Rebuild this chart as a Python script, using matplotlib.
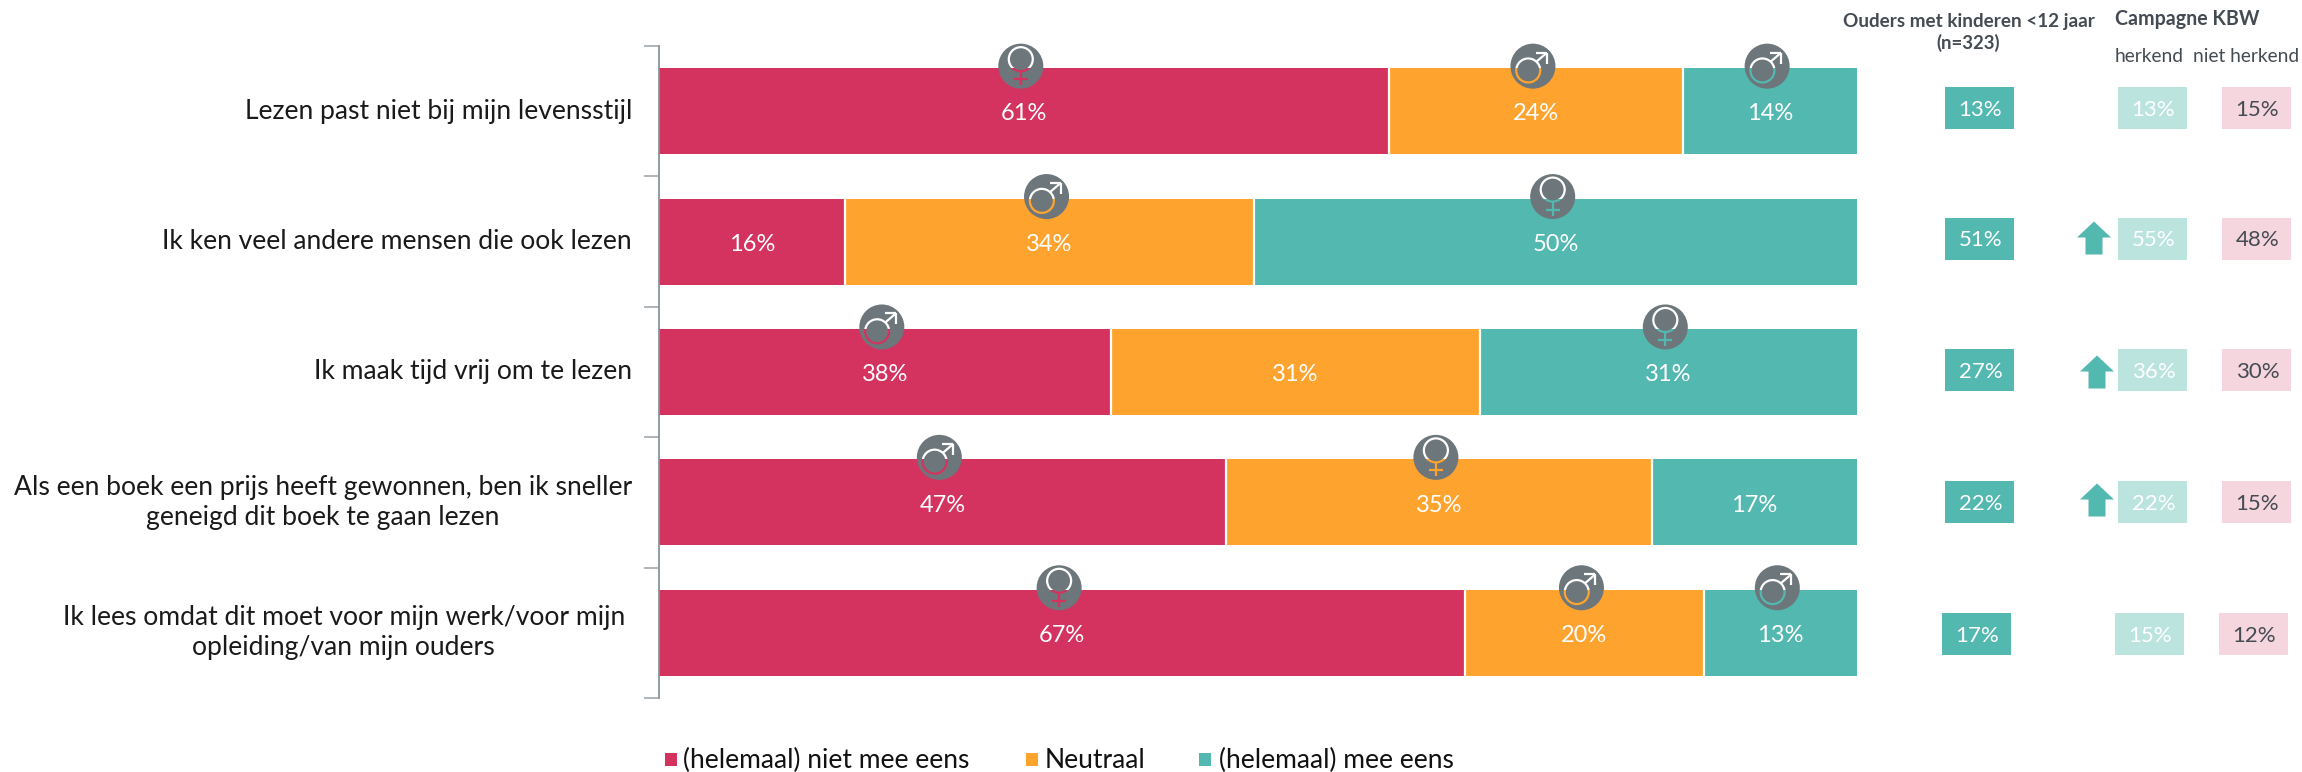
import numpy as np
import matplotlib
matplotlib.use("Agg")
import matplotlib.pyplot as plt
from matplotlib.patches import Circle, Rectangle, Polygon

plt.rcParams['font.family'] = ['Lato', 'DejaVu Sans']

W, H = 2302, 772

categories = ["Lezen past niet bij mijn levensstijl",
              "Ik ken veel andere mensen die ook lezen",
              "Ik maak tijd vrij om te lezen",
              "Als een boek een prijs heeft gewonnen, ben ik sneller\ngeneigd dit boek te gaan lezen",
              "Ik lees omdat dit moet voor mijn werk/voor mijn\nopleiding/van mijn ouders"]
series_names = ["(helemaal) niet mee eens", "Neutraal", "(helemaal) mee eens"]
# bar widths, labels as printed (they do not always round the same)
oneens = [60.9, 15.5, 37.7, 47.3, 67.3]
neutraal = [24.6, 34.2, 30.8, 35.6, 19.9]
eens = [14.5, 50.3, 31.5, 17.1, 12.8]
oneens_lab = [61, 16, 38, 47, 67]
neutraal_lab = [24, 34, 31, 35, 20]
eens_lab = [14, 50, 31, 17, 13]
# gender sign per segment, None = no sign
gender = [['f', 'm', 'm'], [None, 'm', 'f'], ['m', None, 'f'], ['m', 'f', None], ['f', 'm', 'm']]
ouders = [13, 51, 27, 22, 17]
herkend = [13, 55, 36, 22, 15]
niet_herkend = [15, 48, 30, 15, 12]
arrow_up = [False, True, True, True, False]

RED, ORANGE, TEAL = '#D4335F', '#FFA32F', '#53B8AF'
LTEAL, LPINK = '#BBE4DF', '#F5D5DE'
DARK = '#444B52'
ICON = '#6C767B'
colors = [RED, ORANGE, TEAL]

fig = plt.figure(figsize=(W / 100, H / 100), dpi=100)

# overlay in pixel coordinates for the boxes, signs and legend
ov = fig.add_axes([0, 0, 1, 1], zorder=3)
ov.set_xlim(0, W)
ov.set_ylim(H, 0)
ov.axis('off')

ax = fig.add_axes([659 / W, 1 - 698 / H, 1198 / W, 652 / H], zorder=1)
ax.set_xlim(0, 100)
ax.set_ylim(5, 0)
ypos = np.arange(5) + 0.5
bar_h = 0.66

left = np.zeros(5)
for vals, labs, col, name in zip([oneens, neutraal, eens], [oneens_lab, neutraal_lab, eens_lab], colors, series_names):
    vals = np.array(vals)
    ax.barh(ypos, vals, left=left, height=bar_h, color=col, edgecolor='none', label=name)
    for y, l, v, lab in zip(ypos, left, vals, labs):
        ax.text(l + v / 2, y + 0.02, f"{lab}%", ha='center', va='center', color='white', fontsize=17, zorder=4)
    left = left + vals
    # white gap between the segments
    if col != TEAL:
        ax.vlines(left, ypos - bar_h / 2, ypos + bar_h / 2, color='white', lw=1.6, zorder=3)

for s in ['top', 'right', 'bottom']:
    ax.spines[s].set_visible(False)
ax.spines['left'].set_color('#8A9299')
ax.spines['left'].set_linewidth(1.3)
ax.set_xticks([])
ax.set_yticks(np.arange(6))
ax.set_yticklabels([])
ax.tick_params(axis='y', length=11, width=1.3, color='#A9AFB4')
for i, (y, c) in enumerate(zip(ypos, categories)):
    ax.annotate(c, (0, y), xytext=(-27 if i < 4 else -34, 0), textcoords='offset pixels', ha='right', va='center',
                multialignment='center', fontsize=19.1, color='#1A1A1A', linespacing=1.25, annotation_clip=False)


def to_px(x, y):
    p = ax.transData.transform((x, y))
    return p[0] * 1.0, H - p[1]


def draw_sign(cx, cy, kind, lower_col, top_px):
    ov.add_patch(Circle((cx, cy), 22.5, fc=ICON, ec='none', zorder=4))
    # the sign is a cut-out: white above the bar edge, bar colour below it
    for col, clip in (('white', (cx - 30, cy - 30, 60, top_px - cy + 30)),
                      (lower_col, (cx - 30, top_px, 60, 60))):
        rect = Rectangle(clip[:2], clip[2], clip[3], transform=ov.transData)
        if kind == 'f':
            parts = [Circle((cx, cy - 7), 12, fc='none', ec=col, lw=1.6, zorder=5)]
            xs = [[cx, cx], [cx - 7, cx + 7]]
            ys = [[cy + 5, cy + 19], [cy + 13, cy + 13]]
        else:
            parts = [Circle((cx - 4.7, cy + 4.3), 12, fc='none', ec=col, lw=1.6, zorder=5)]
            xs = [[cx + 3.5, cx + 14], [cx + 3, cx + 14], [cx + 14, cx + 14]]
            ys = [[cy - 4.5, cy - 13.5], [cy - 13.5, cy - 13.5], [cy - 13.5, cy - 2.5]]
        for p in parts:
            ov.add_patch(p)
            p.set_clip_path(rect)
        for xx, yy in zip(xs, ys):
            ln, = ov.plot(xx, yy, color=col, lw=1.6, zorder=5, solid_capstyle='butt')
            ln.set_clip_path(rect)


fig.canvas.draw()
left = np.zeros(5)
for j, vals in enumerate([oneens, neutraal, eens]):
    for i in range(5):
        if gender[i][j]:
            cx, top = to_px(left[i] + vals[i] / 2, ypos[i] - bar_h / 2)
            draw_sign(cx - 3, top - 2, gender[i][j], colors[j], top)
    left = left + np.array(vals)

# side columns
box_w, box_h = 69, 42
shift = [0, 0, 0, 0, -3]
box_off = [-3.7, -3.1, -2.5, -0.9, 1.0]
arrow_x = [0, 2094, 2097, 2097, 0]
arrow_off = [0, 4, 7, 3, 0]
for i in range(5):
    _, cy = to_px(0, ypos[i])
    y0 = cy + box_off[i] - box_h / 2
    cols = [(1945, ouders[i], TEAL, 'white'), (2118, herkend[i], LTEAL, 'white'), (2222, niet_herkend[i], LPINK, DARK)]
    for x0, v, fc, tc in cols:
        x0 = x0 + shift[i]
        ov.add_patch(Rectangle((x0, y0), box_w, box_h, fc=fc, ec='none'))
        ov.text(x0 + box_w / 2 + 1, y0 + box_h / 2 + 2, f"{v}%", ha='center', va='center', color=tc, fontsize=16)
    if arrow_up[i]:
        ax_c = arrow_x[i]
        t = y0 + arrow_off[i]
        ov.add_patch(Polygon([(ax_c, t), (ax_c + 17, t + 16), (ax_c + 8.5, t + 16), (ax_c + 8.5, t + 33),
                              (ax_c - 8.5, t + 33), (ax_c - 8.5, t + 16), (ax_c - 17, t + 16)], fc=TEAL, ec='none'))

ov.text(1969, 22, "Ouders met kinderen <12 jaar", ha='center', va='center', fontsize=13.6, fontweight='bold', color=DARK)
ov.text(1968, 43, "(n=323)", ha='center', va='center', fontsize=13.3, fontweight='bold', color=DARK)
ov.text(2115, 19, "Campagne KBW", ha='left', va='center', fontsize=14.1, fontweight='bold', color=DARK)
ov.text(2115, 57, "herkend", ha='left', va='center', fontsize=13.8, color=DARK)
ov.text(2193, 56, "niet herkend", ha='left', va='center', fontsize=13.8, color=DARK)

# legend
for x0, tx, name, col in zip([665, 1026, 1199], [683, 1045, 1219], series_names, colors):
    ov.add_patch(Rectangle((x0, 753), 12, 13, fc=col, ec='none'))
    ov.text(tx, 760, name, ha='left', va='center', fontsize=19, color='#111111')

fig.savefig("out.png", dpi=100)
